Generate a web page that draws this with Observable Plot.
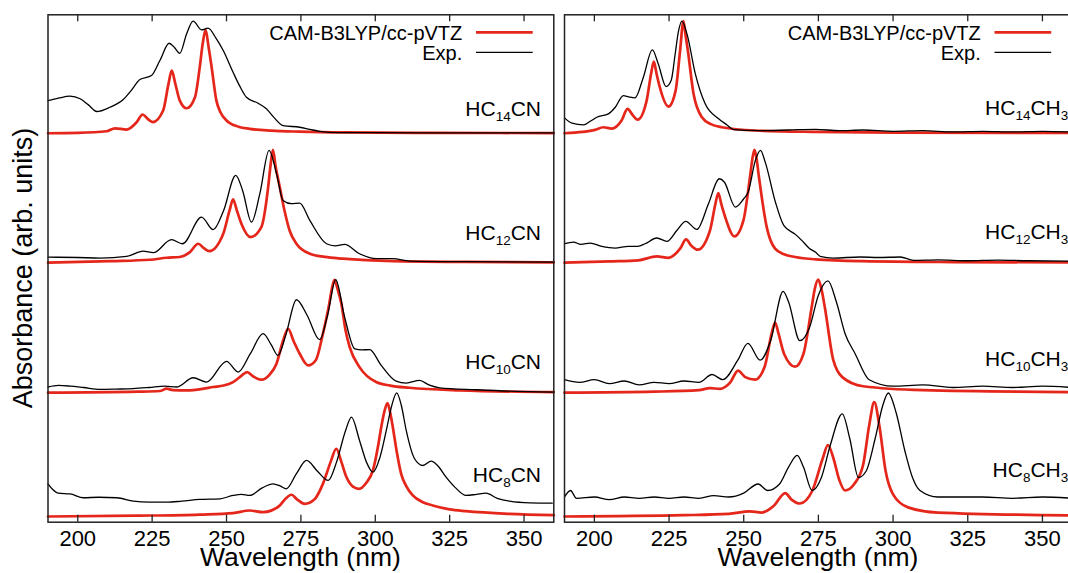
<!DOCTYPE html>
<html><head><meta charset="utf-8">
<script src="https://cdn.jsdelivr.net/npm/d3@7"></script>
<script src="https://cdn.jsdelivr.net/npm/@observablehq/plot@0.6"></script>
<style>
html,body{margin:0;padding:0;background:#fff;overflow:hidden}
#wrap{position:relative;width:1068px;height:573px;overflow:hidden}
#wrap svg{position:absolute;top:0;max-width:none !important}
</style></head><body><div id="wrap"></div>
<script>
// ---------- data ----------
const X_TICKS = [200, 225, 250, 275, 300, 325, 350];
const LEFT_MOLECULES = ["HC14CN", "HC12CN", "HC10CN", "HC8CN"];
const RIGHT_MOLECULES = ["HC14CH3", "HC12CH3", "HC10CH3", "HC8CH3"];
const STACK_OFFSETS = [2.948, 1.952, 0.952, 0];
const LEGEND_LABELS = ["CAM-B3LYP/cc-pVTZ", "Exp."];

const HC14CN_calc = [[190,0],[200,0.003],[209.7,0.015],[212.5,0.038],[216.4,0.028],[219.8,0.085],[221.8,0.144],[223.5,0.11],[225.2,0.085],[228.7,0.175],[230.5,0.38],[231.6,0.482],[232.8,0.38],[234.3,0.251],[236.6,0.192],[239.4,0.277],[241,0.508],[242,0.69],[242.95,0.795],[244,0.66],[245,0.508],[246.6,0.251],[248,0.16],[250,0.098],[254,0.05],[257.8,0.034],[265,0.02],[274.6,0.012],[290,0.006],[320,0.003],[360,0.001]];
const HC14CN_exp = [[190,0.251],[193.5,0.27],[197.4,0.285],[200.8,0.265],[203.5,0.22],[206.4,0.167],[210.8,0.2],[215.3,0.259],[218,0.33],[220.9,0.413],[224.8,0.444],[227.6,0.559],[230.7,0.692],[232.5,0.66],[234.3,0.615],[236.6,0.766],[238.8,0.862],[241.6,0.795],[243.8,0.808],[246.5,0.73],[248.9,0.636],[252.2,0.469],[254.5,0.36],[256.7,0.277],[260.6,0.231],[263.4,0.188],[266,0.12],[269,0.059],[274.6,0.046],[278,0.03],[281.3,0.015],[288,0.005],[300,0.004],[320,0.003],[340,0.003],[360,0.002]];

const HC12CN_calc = [[190,0],[210.9,0.012],[224.3,0.023],[229.9,0.038],[234.3,0.044],[237.7,0.082],[240.5,0.146],[242.5,0.11],[244.2,0.089],[248.9,0.223],[251,0.4],[252.2,0.487],[253.5,0.4],[255,0.3],[258.1,0.197],[261.7,0.274],[264,0.582],[264.8,0.75],[265.6,0.869],[266.5,0.74],[267.9,0.582],[269.5,0.4],[271.2,0.248],[273.5,0.146],[278,0.069],[283,0.045],[289.1,0.031],[305.9,0.012],[330,0.006],[360,0.002]];
const HC12CN_exp = [[190,0.043],[200,0.04],[207.5,0.036],[216.4,0.048],[222,0.089],[225.4,0.077],[231.5,0.177],[235.2,0.146],[241.6,0.351],[245.5,0.254],[249,0.4],[253.1,0.672],[255.4,0.556],[258.4,0.312],[261.2,0.531],[264.3,0.864],[266.8,0.685],[269,0.479],[271.8,0.454],[274.6,0.458],[278,0.325],[283.6,0.146],[286.5,0.13],[289.7,0.141],[294.7,0.069],[300.3,0.031],[305.9,0.031],[311.5,0.013],[330,0.008],[360,0.005]];

const HC10CN_calc = [[190,0],[220,0.008],[227.6,0.013],[229.9,0.031],[232,0.02],[236.6,0.018],[242,0.03],[245.5,0.044],[249,0.055],[252.2,0.082],[255,0.13],[256.9,0.159],[259,0.125],[261.7,0.1],[264.5,0.14],[266.8,0.223],[269,0.4],[270.7,0.492],[272.5,0.4],[274.6,0.3],[277.4,0.21],[280,0.25],[282.4,0.454],[284.5,0.68],[285.4,0.8],[286.3,0.869],[287.3,0.8],[288.6,0.685],[290,0.48],[291.4,0.351],[294.7,0.197],[300.3,0.082],[305,0.055],[311.5,0.038],[328.3,0.018],[360,0.005]];
const HC10CN_exp = [[190,0.044],[193.5,0.056],[197.4,0.051],[202,0.04],[207.5,0.026],[213,0.028],[218.6,0.031],[224,0.04],[229.3,0.051],[233.2,0.044],[238.8,0.115],[243.3,0.082],[250,0.241],[253.9,0.159],[258,0.3],[262.3,0.454],[265,0.37],[267.3,0.287],[270,0.45],[273.5,0.715],[277,0.6],[281.3,0.408],[284,0.6],[286.7,0.869],[289.7,0.582],[293.1,0.338],[295.5,0.33],[298.1,0.331],[302,0.21],[307,0.089],[310.4,0.074],[314.9,0.095],[318,0.06],[321.6,0.038],[333.9,0.023],[345,0.012],[360,0.005]];

const HC8CN_calc = [[190,0],[220,0.006],[241,0.015],[252.2,0.026],[257.8,0.046],[262.3,0.033],[265,0.045],[267.9,0.085],[270,0.14],[271.8,0.167],[273.8,0.13],[276.3,0.097],[279.5,0.13],[282.4,0.251],[285,0.42],[286.9,0.521],[288.6,0.42],[290.3,0.303],[292.5,0.23],[294.5,0.213],[297,0.26],[299.2,0.354],[301,0.55],[302,0.687],[303.2,0.82],[304.1,0.872],[305,0.8],[305.9,0.687],[307.2,0.5],[308.7,0.328],[310.5,0.23],[312.6,0.162],[316,0.11],[319.3,0.085],[325,0.055],[330.5,0.041],[345,0.02],[360,0.01]];
const HC8CN_exp = [[190,0.251],[191.5,0.21],[193.5,0.179],[197.4,0.174],[201.9,0.144],[207,0.148],[213.1,0.144],[218.7,0.118],[224,0.11],[229.9,0.11],[235,0.118],[241,0.131],[247.8,0.136],[252.2,0.162],[255,0.17],[257.8,0.162],[262,0.22],[265.6,0.251],[268,0.235],[270.1,0.213],[273.5,0.33],[276.9,0.431],[280.5,0.35],[284.2,0.277],[287,0.42],[290,0.66],[292,0.764],[294.7,0.585],[297,0.42],[299.2,0.341],[301.5,0.45],[303.7,0.662],[305.5,0.85],[307.2,0.951],[308.8,0.85],[310.4,0.662],[313.2,0.444],[316,0.392],[318.8,0.426],[321,0.39],[323.8,0.303],[327,0.22],[330.5,0.162],[334,0.17],[337.2,0.179],[341,0.14],[345.1,0.118],[352,0.105],[359.5,0.103]];

const HC14CH3_calc = [[190,0],[196,0.01],[200.2,0.026],[203,0.046],[205.8,0.036],[209.1,0.098],[211.1,0.188],[212.8,0.14],[214.5,0.105],[217.5,0.251],[219,0.46],[219.9,0.551],[220.8,0.46],[221.9,0.354],[224.8,0.205],[227.2,0.328],[228.7,0.636],[229.8,0.862],[230.5,0.76],[231.3,0.636],[233.2,0.303],[236,0.123],[239,0.07],[242.7,0.046],[253.9,0.021],[274,0.01],[300,0.005],[360,0.002]];
const HC14CH3_exp = [[190,0.118],[192.5,0.077],[196.4,0.064],[198.5,0.09],[200.8,0.123],[204.7,0.149],[207,0.2],[209.7,0.29],[211.5,0.28],[213.6,0.272],[216.4,0.431],[219.4,0.641],[221.4,0.533],[224,0.359],[225.7,0.405],[227,0.6],[228.1,0.777],[229.3,0.862],[231,0.764],[233.8,0.457],[237.1,0.226],[241.6,0.111],[244.4,0.064],[246.6,0.028],[255,0.02],[265,0.025],[274,0.03],[282,0.02],[290,0.025],[300,0.015],[310,0.02],[320,0.01],[330,0.015],[340,0.01],[350,0.015],[360,0.01]];

const HC12CH3_calc = [[190,0],[205,0.01],[214.7,0.018],[220.9,0.049],[224.8,0.038],[228.7,0.108],[230.7,0.179],[232.5,0.13],[234.6,0.1],[238.7,0.248],[240.5,0.45],[241.5,0.536],[242.5,0.45],[243.8,0.351],[246.9,0.202],[249.9,0.325],[252.1,0.659],[252.9,0.8],[253.6,0.869],[254.3,0.8],[255.1,0.659],[257.7,0.274],[260.5,0.108],[263.5,0.065],[267.2,0.044],[274,0.026],[290,0.012],[320,0.005],[360,0.002]];
const HC12CH3_exp = [[190,0.146],[193,0.159],[195.5,0.141],[198.6,0.151],[202.5,0.126],[206.9,0.113],[211.4,0.126],[214.5,0.126],[217,0.146],[220.9,0.19],[224.3,0.164],[227.6,0.248],[230.6,0.318],[234.3,0.256],[238.2,0.454],[241.8,0.646],[243.5,0.621],[247.2,0.428],[250,0.492],[251.5,0.544],[253.9,0.787],[255.6,0.864],[257.2,0.774],[260.6,0.467],[263.4,0.287],[267.3,0.218],[269.5,0.17],[272,0.11],[274,0.082],[275.6,0.049],[280,0.036],[289,0.044],[295,0.04],[302.4,0.044],[306.9,0.018],[315,0.022],[325,0.015],[335,0.02],[345,0.015],[360,0.012]];

const HC10CH3_calc = [[190,0],[220,0.008],[235,0.02],[238.8,0.035],[242,0.03],[245.5,0.08],[248.1,0.17],[250.5,0.12],[253.8,0.1],[257,0.2],[259.3,0.45],[260.5,0.54],[261.7,0.45],[263.5,0.3],[267.2,0.2],[270,0.3],[272.7,0.65],[273.8,0.8],[274.9,0.87],[276,0.8],[277.2,0.65],[280,0.25],[283,0.12],[290,0.05],[310,0.02],[360,0.005]];
const HC10CH3_exp = [[190,0.1],[195,0.08],[200,0.1],[205,0.07],[210,0.09],[215,0.06],[220,0.08],[225,0.07],[230,0.09],[235,0.08],[239.4,0.14],[243,0.1],[248,0.25],[251.4,0.38],[255.5,0.25],[259,0.4],[263.2,0.78],[265,0.7],[268.8,0.4],[272,0.5],[275,0.75],[278.2,0.86],[281,0.7],[284,0.45],[287.3,0.3],[292,0.1],[300,0.05],[310,0.06],[320,0.04],[330,0.05],[340,0.04],[350,0.05],[360,0.04]];

const HC8CH3_calc = [[190,0],[230,0.01],[245,0.02],[252,0.04],[256,0.03],[260,0.08],[263.9,0.18],[266,0.13],[268.8,0.1],[273,0.2],[276.5,0.45],[278.2,0.55],[280,0.45],[282,0.28],[283.9,0.2],[287,0.25],[290,0.4],[292,0.7],[293.7,0.88],[295.4,0.7],[297.5,0.35],[300,0.17],[305,0.07],[315,0.03],[360,0.008]];
const HC8CH3_exp = [[190,0.15],[192,0.2],[194,0.14],[200,0.15],[205,0.13],[210,0.15],[215,0.14],[220,0.15],[225,0.14],[230,0.15],[235,0.14],[240,0.16],[245,0.15],[250,0.18],[254.8,0.25],[258,0.2],[262,0.25],[265,0.38],[267.9,0.47],[270,0.38],[272.9,0.2],[276,0.3],[279,0.55],[283,0.79],[285.5,0.6],[288.4,0.3],[291,0.35],[294,0.6],[296.5,0.85],[298.4,0.95],[301,0.8],[304,0.5],[306.5,0.3],[309,0.2],[315,0.15],[320,0.15],[330,0.15],[340,0.14],[350,0.15],[360,0.14]];

// ---------- layout ----------
const FONT = '"Liberation Sans", Arial, Helvetica, sans-serif';
const RED = "#e5261b";
const X_DOMAIN = [190, 360];
const Y_DOMAIN = [-0.044, 3.859];
const LEFT_LIFTS = [0.128, 0.17, 0.177, 0.264];
const RIGHT_LIFTS = [0.136, 0.177, 0.2, 0.3];
const H = 573, MT = 14.3, MB = 51.3;

const wrap = document.getElementById("wrap");

function subscriptText(sel, name, subSize) {
  const parts = name.split(/(\d+)/).filter(p => p.length);
  let shifted = false;
  parts.forEach(p => {
    const t = sel.append("tspan").text(p);
    if (/^\d+$/.test(p)) { t.attr("font-size", subSize).attr("dy", 5); shifted = true; }
    else if (shifted) { t.attr("dy", -5); shifted = false; }
  });
}

function panel({calc, exp, molecules, lifts, labelDx, left, width, marginLeft, marginRight, yLabel}) {
  const plotH = H - MT - MB;
  const toRows = list => list.flatMap((pts, i) => pts.map(([nm, a]) => ({nm, y: a + STACK_OFFSETS[i], k: molecules[i]})));
  const chart = Plot.plot({
    width, height: H, marginLeft, marginRight, marginTop: MT, marginBottom: MB,
    x: {domain: X_DOMAIN},
    y: {domain: Y_DOMAIN, axis: null},
    style: {fontFamily: FONT, fontSize: "22px", color: "#000", background: "transparent", overflow: "visible"},
    marks: [
      Plot.line(toRows(calc), {x: "nm", y: "y", z: "k", stroke: RED, strokeWidth: 2.7, curve: "monotone-x"}),
      Plot.line(toRows(exp), {x: "nm", y: "y", z: "k", stroke: "#000", strokeWidth: 1.3, curve: "monotone-x"}),
      Plot.ruleX(X_TICKS, {x: d => d, insetBottom: plotH - 7, stroke: "#222", strokeWidth: 1.3}),
      Plot.ruleX(X_TICKS, {x: d => d, insetTop: plotH - 7, stroke: "#222", strokeWidth: 1.3}),
      Plot.frame({stroke: "#222", strokeWidth: 1.5}),
      Plot.axisX({ticks: X_TICKS, anchor: "bottom", tickSize: 0, tickPadding: 8, fontSize: 22, label: null, tickFormat: d => String(d)})
    ]
  });
  chart.style.left = left + "px";
  chart.style.maxWidth = "none";
  wrap.appendChild(chart);
  const xs = chart.scale("x"), ys = chart.scale("y");
  const svg = d3.select(chart);
  const xR = xs.apply(X_DOMAIN[1]), xL = xs.apply(X_DOMAIN[0]);
  const g = svg.append("g").attr("font-family", FONT).attr("fill", "#000");
  molecules.forEach((m, i) => {
    const t = g.append("text").attr("x", xR + labelDx).attr("y", ys.apply(STACK_OFFSETS[i] + lifts[i]))
      .attr("text-anchor", "end").attr("font-size", 21);
    subscriptText(t, m, 13.5);
  });
  const legendColors = [RED, "#000"], legendW = [2.7, 1.3], legendY = [32.3, 52.3];
  LEGEND_LABELS.forEach((lab, i) => {
    g.append("text").attr("x", xR - 91).attr("y", legendY[i] + 7.2).attr("text-anchor", "end")
      .attr("font-size", 20).text(lab);
    g.append("line").attr("x1", xR - 77.3).attr("x2", xR - 20.6).attr("y1", legendY[i]).attr("y2", legendY[i])
      .attr("stroke", legendColors[i]).attr("stroke-width", legendW[i]);
  });
  g.append("text").attr("x", (xL + xR) / 2).attr("y", 566).attr("text-anchor", "middle")
    .attr("font-size", 26.5).text("Wavelength (nm)");
  if (yLabel) {
    g.append("text").attr("transform", `translate(32,${(MT + H - MB) / 2}) rotate(-90)`)
      .attr("text-anchor", "middle").attr("font-size", 27).text(yLabel);
  }
}

panel({calc: [HC14CN_calc, HC12CN_calc, HC10CN_calc, HC8CN_calc],
       exp: [HC14CN_exp, HC12CN_exp, HC10CN_exp, HC8CN_exp],
       molecules: LEFT_MOLECULES, lifts: LEFT_LIFTS, labelDx: -12.3, left: 0, width: 556,
       marginLeft: 47.5, marginRight: 2.7, yLabel: "Absorbance (arb. units)"});
panel({calc: [HC14CH3_calc, HC12CH3_calc, HC10CH3_calc, HC8CH3_calc],
       exp: [HC14CH3_exp, HC12CH3_exp, HC10CH3_exp, HC8CH3_exp],
       molecules: RIGHT_MOLECULES, lifts: RIGHT_LIFTS, labelDx: -3.5, left: 556, width: 520,
       marginLeft: 8, marginRight: 4.2, yLabel: null});
</script></body></html>
